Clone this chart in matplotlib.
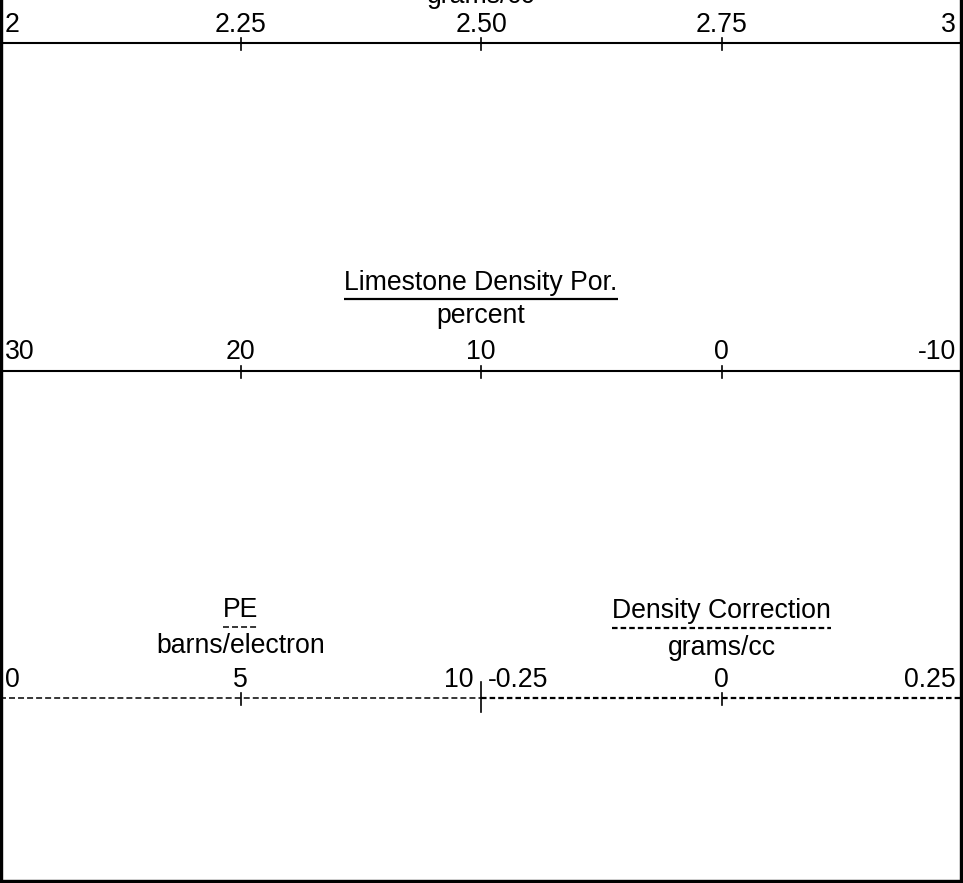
import matplotlib
matplotlib.use("Agg")
import matplotlib.pyplot as plt

plt.rcParams['font.family'] = ['Liberation Sans', 'DejaVu Sans']
plt.rcParams['lines.scale_dashes'] = False

W, H, DPI = 963, 883, 100
TRACK = 962          # track width in pixels
FS = 19.2            # font size (pt)

# scales of the track header
dens_vals = [2, 2.25, 2.50, 2.75, 3]
dens_labels = ['2', '2.25', '2.50', '2.75', '3']
por_vals = [30, 20, 10, 0, -10]
por_labels = ['30', '20', '10', '0', '-10']
pe_vals = [0, 5, 10]
pe_labels = ['0', '5', '10']
dc_vals = [-0.25, 0, 0.25]
dc_labels = ['-0.25', '0', '0.25']

fig = plt.figure(figsize=(W / DPI, H / DPI), dpi=DPI)

# frame in pixel coords
frame = fig.add_axes([0, 0, 1, 1])
frame.set_xlim(0, W)
frame.set_ylim(H, 0)
frame.set_xticks([])
frame.set_yticks([])
frame.spines['top'].set_visible(False)
for s in ['left', 'right', 'bottom']:
    frame.spines[s].set_linewidth(4.6)
frame.patch.set_alpha(0)


def scale_axes(x0, x1, lo, hi):
    ax = fig.add_axes([x0 / W, 0, (x1 - x0) / W, 1])
    ax.set_xlim(lo, hi)
    ax.set_ylim(H, 0)
    ax.axis('off')
    return ax


def draw_scale(ax, vals, labels, line_y, base_y, style, lw, left_dx=5, right_dx=-6,
               ticks=None):
    lo, hi = vals[0], vals[-1]
    ax.plot([lo, hi], [line_y, line_y], color='k', lw=lw, clip_on=False,
            solid_capstyle='butt', **style)
    tick_vals = vals[1:-1] if ticks is None else ticks
    for t in tick_vals:
        ax.plot([t, t], [line_y - 5, line_y + 7], color='k', lw=1.2, clip_on=False)
    for i, (v, lab) in enumerate(zip(vals, labels)):
        if i == 0:
            ha, dx = 'left', left_dx
        elif i == len(vals) - 1:
            ha, dx = 'right', right_dx
        else:
            ha, dx = 'center', 0
        ax.annotate(lab, (v, base_y), xytext=(dx, 0), textcoords='offset pixels',
                    ha=ha, va='baseline', fontsize=FS, color='k',
                    annotation_clip=False)


def title(ax, text, xval, y, under_y=None, style=None, lw=1.4):
    t = ax.text(xval, y, text, ha='center', va='baseline', fontsize=FS, color='k')
    if under_y is not None:
        fig.canvas.draw()
        bb = t.get_window_extent(fig.canvas.get_renderer())
        x0 = bb.x0 * W / fig.bbox.width
        x1 = bb.x1 * W / fig.bbox.width
        frame.plot([x0, x1], [under_y, under_y], color='k', lw=lw,
                   solid_capstyle='butt', **(style or {}))
    return t


solid = {'linestyle': '-'}
dash_pe = {'linestyle': (0, (4.3, 2.2))}
dash_dc = {'linestyle': (0, (4.0, 2.2))}

# density (top) - its title sits above the visible area
ax_d = scale_axes(0, TRACK, dens_vals[0], dens_vals[-1])
title(ax_d, 'grams/cc', 2.5, 3)
draw_scale(ax_d, dens_vals, dens_labels, 43, 32, solid, 1.5)

# limestone density porosity
ax_p = scale_axes(0, TRACK, por_vals[0], por_vals[-1])
title(ax_p, 'Limestone Density Por.', 10, 290, under_y=299, lw=1.6)
title(ax_p, 'percent', 10, 323)
draw_scale(ax_p, por_vals, por_labels, 371, 359, solid, 1.5)

# PE (left half)
mid = TRACK / 2
ax_pe = scale_axes(0, mid, pe_vals[0], pe_vals[-1])
title(ax_pe, 'PE', 5, 617, under_y=627, style=dash_pe, lw=1.1)
title(ax_pe, 'barns/electron', 5, 653)
draw_scale(ax_pe, pe_vals, pe_labels, 698, 687, dash_pe, 1.1, right_dx=-8)
ax_pe.plot([pe_vals[-1]] * 2, [682, 712], color='k', lw=1.2, clip_on=False)

# density correction (right half)
ax_dc = scale_axes(mid, TRACK, dc_vals[0], dc_vals[-1])
title(ax_dc, 'Density Correction', 0, 618, under_y=628, style=dash_dc, lw=1.6)
title(ax_dc, 'grams/cc', 0, 655)
draw_scale(ax_dc, dc_vals, dc_labels, 698, 687, dash_dc, 1.6, left_dx=7)

fig.savefig('out.png', dpi=DPI)
